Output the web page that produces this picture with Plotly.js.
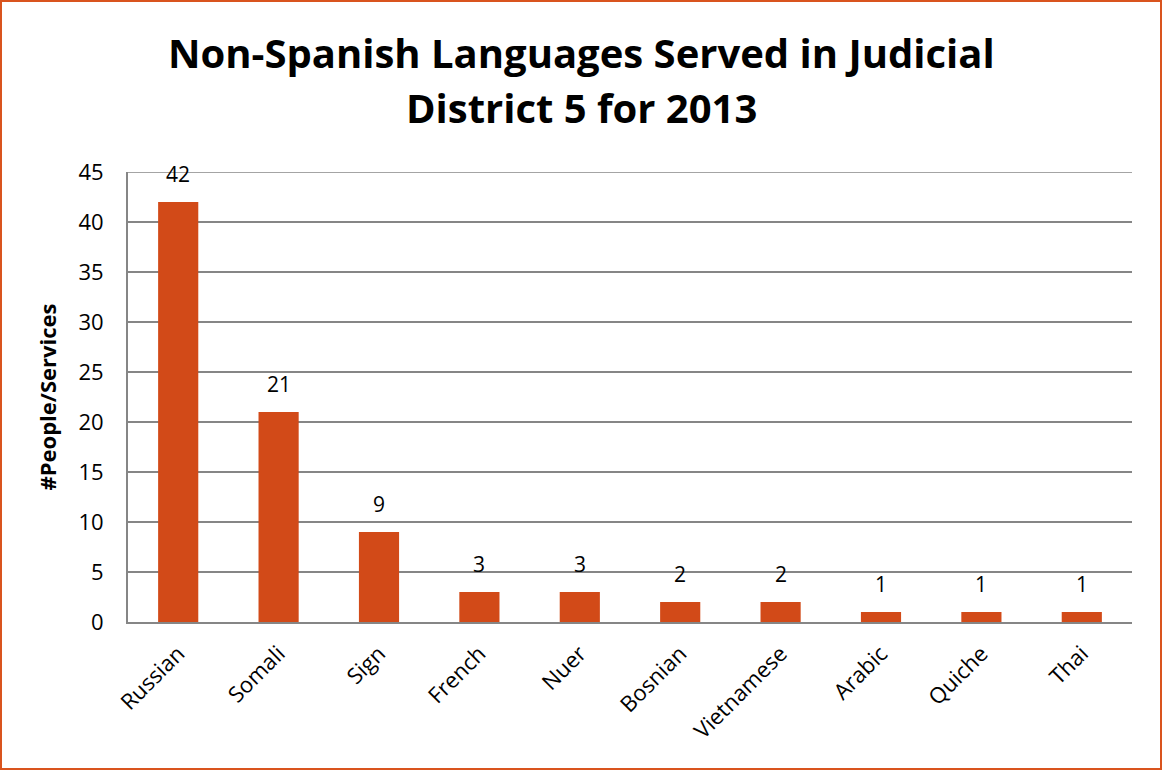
<!DOCTYPE html>
<html>
<head>
<meta charset="utf-8">
<script src="https://cdn.plot.ly/plotly-3.0.1.min.js"></script>
<style>
html,body{margin:0;padding:0;background:#fff;}
#wrap{width:1162px;height:770px;box-sizing:border-box;border:2px solid #D9541E;position:relative;overflow:hidden;}
#chart{position:absolute;left:-2px;top:-2px;width:1162px;height:770px;}
</style>
</head>
<body>
<div id="wrap"><div id="chart"></div></div>
<script>
const languages = ["Russian","Somali","Sign","French","Nuer","Bosnian","Vietnamese","Arabic","Quiche","Thai"];
const counts = [42,21,9,3,3,2,2,1,1,1];
const yTicks = [0,5,10,15,20,25,30,35,40,45];
const titleLines = ["Non-Spanish Languages Served in Judicial","District 5 for 2013"];

const font = "Open Sans, Lato, sans-serif";
const barColor = "#D24A18";

const annotations = languages.map((l,i)=>({
  x: l, y: counts[i], xref:'x', yref:'y', text: String(counts[i]),
  showarrow:false, yanchor:'bottom', yshift: 12,
  font:{family:font,size:21,color:'#000'}
}));
titleLines.forEach((t,i)=>annotations.push({
  xref:'paper', yref:'paper', x:0.452, xanchor:'center',
  y: (770-148-[51,106][i]-2)/(770-172-148), yanchor:'middle',
  text:'<b>'+t+'</b>', showarrow:false,
  font:{family:font,size:40,color:'#000'}
}));

Plotly.newPlot('chart',[{
  type:'bar', x: languages, y: counts,
  marker:{color:barColor},
  hoverinfo:'none'
}],{
  width:1162, height:770,
  paper_bgcolor:'rgba(0,0,0,0)', plot_bgcolor:'#fff',
  margin:{l:128,r:30,t:172,b:148},
  bargap:0.6,
  xaxis:{tickangle:-45, tickfont:{family:font,size:22,color:'#000'}, showline:true, linecolor:'#868686', linewidth:2,
    ticks:'', showgrid:false, fixedrange:true, ticklabelstandoff:8},
  yaxis:{range:[0,45], tickvals:yTicks, ticktext:yTicks.map(String), tickfont:{family:font,size:22,color:'#000'},
    showline:true, linecolor:'#868686', linewidth:2, gridcolor:'#868686', gridwidth:1.5, zeroline:false,
    ticks:'', ticklen:0, ticklabelstandoff:18,
    title:{text:'#People/Services', font:{family:font,size:22,color:'#000',weight:'bold'}, standoff:16}},
  shapes:[{type:'line', xref:'paper', yref:'y', x0:0, x1:1, y0:yTicks[yTicks.length-1], y1:yTicks[yTicks.length-1],
    line:{color:'#868686', width:1.5}, layer:'below'}],
  annotations: annotations,
  showlegend:false
},{displayModeBar:false, staticPlot:true});
</script>
</body>
</html>
